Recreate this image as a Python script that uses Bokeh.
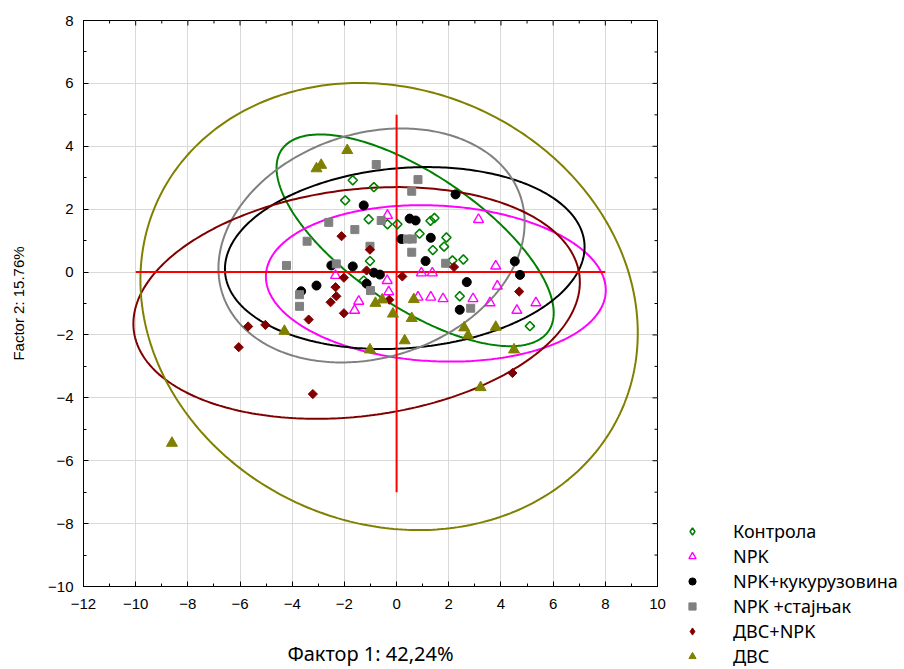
import numpy as np
from bokeh.plotting import figure
from bokeh.layouts import row
from bokeh.models import Legend, LegendItem, SingleIntervalTicker, Range1d
from bokeh.embed import file_html
from bokeh.resources import INLINE

# ---------------- data ----------------
groups = ["Контрола", "NPK", "NPK+кукурузовина", "NPK +стајњак", "ДВС+NPK", "ДВС"]

kontrola_x = [-1.68, -0.87, -1.97, -1.07, -0.35, 0.03, 1.30, 1.45, 0.88, 1.91, 1.82, 1.39, -1.02, -1.26, 2.14, 2.56, 2.42, 5.11]
kontrola_y = [2.92, 2.70, 2.28, 1.68, 1.52, 1.52, 1.63, 1.72, 1.22, 1.10, 0.81, 0.70, 0.35, -0.27, 0.37, 0.40, -0.77, -1.72]

npk_x = [-0.35, 3.14, 3.80, -2.34, -0.36, 0.95, 1.37, 3.86, -0.30, -1.45, -1.61, 0.82, 1.31, 1.78, 2.93, 3.58, 4.61, 5.34]
npk_y = [1.80, 1.67, 0.19, -0.11, -0.27, -0.03, -0.03, -0.45, -0.63, -0.93, -1.22, -0.80, -0.80, -0.85, -0.85, -0.98, -1.22, -0.98]

kuk_x = [-1.26, 0.50, 0.73, 0.19, 1.31, 1.11, -1.68, -0.87, -0.64, 2.26, 4.53, 4.73, 2.69, -2.50, -1.15, 2.42, -3.07, -3.66]
kuk_y = [2.12, 1.70, 1.64, 1.05, 1.09, 0.35, 0.18, -0.02, -0.08, 2.47, 0.34, -0.09, -0.32, 0.21, -0.37, -1.20, -0.43, -0.61]

staj_x = [-0.78, 0.82, 0.58, -0.59, -1.60, 0.42, 0.60, 0.58, -1.02, 1.88, -2.60, -2.31, -1.00, 2.84, -3.43, -4.22, -3.72, -3.72]
staj_y = [3.42, 2.94, 2.57, 1.64, 1.35, 1.05, 1.05, 0.63, 0.82, 0.28, 1.58, 0.26, -0.59, -1.15, 0.98, 0.21, -0.72, -1.09]

dvsnpk_x = [-2.11, -1.02, -1.15, -2.02, -2.34, -2.31, -2.53, -2.02, 0.22, 2.20, 4.70, -0.28, -3.37, -5.03, -5.69, -6.05, -3.21, 4.44]
dvsnpk_y = [1.14, 0.71, 0.05, -0.18, -0.48, -0.77, -0.96, -1.31, -0.14, 0.16, -0.62, -0.88, -1.51, -1.68, -1.73, -2.39, -3.88, -3.21]

dvs_x = [-3.07, -2.89, -1.89, -0.81, -0.55, -0.14, 0.66, 0.58, 0.31, -1.02, 2.59, 2.74, 3.80, 4.50, 3.22, -4.30, -8.61]
dvs_y = [3.29, 3.40, 3.87, -0.99, -0.88, -1.33, -0.87, -1.47, -2.18, -2.47, -1.77, -2.02, -1.75, -2.47, -3.67, -1.88, -5.44]

# red reference cross
hline_x = [-10, 8]
vline_y = [-7, 5]

ellipse_coef = 0.95   # prediction ellipse coefficient

X_MIN, X_MAX = -12, 10
Y_MIN, Y_MAX = -10, 8

# ---------------- styles ----------------
series = [
    (kontrola_x, kontrola_y, dict(marker="square", angle=np.pi / 4, size=6.5, fill_color=None, line_color="#008000", line_width=1.6),
     dict(marker="diamond", fill_color=None, line_color="#008000", line_width=1.6), "#008000"),
    (npk_x, npk_y, dict(marker="triangle", size=10, fill_color=None, line_color="#ff00ff", line_width=1.4),
     dict(marker="triangle", fill_color=None, line_color="#ff00ff", line_width=1.4), "#ff00ff"),
    (kuk_x, kuk_y, dict(marker="circle", size=9, fill_color="black", line_color="black"),
     dict(marker="circle", fill_color="black", line_color="black"), "black"),
    (staj_x, staj_y, dict(marker="square", size=8, fill_color="#808080", line_color="#808080"),
     dict(marker="square", fill_color="#808080", line_color="#808080"), "#808080"),
    (dvsnpk_x, dvsnpk_y, dict(marker="square", angle=np.pi / 4, size=6.5, fill_color="#800000", line_color="#800000"),
     dict(marker="diamond", fill_color="#800000", line_color="#800000"), "#800000"),
    (dvs_x, dvs_y, dict(marker="triangle", size=11, fill_color="#808000", line_color="#808000"),
     dict(marker="triangle", fill_color="#808000", line_color="#808000"), "#808000"),
]

FRAME_W, FRAME_H = 574, 566
p = figure(width=680, height=669, output_backend="svg", toolbar_location=None,
           x_range=Range1d(X_MIN, X_MAX), y_range=Range1d(Y_MIN, Y_MAX),
           min_border_left=83, min_border_right=23, min_border_top=20, min_border_bottom=83,
           background_fill_color="white", border_fill_color="white")
p.outline_line_color = "black"
p.outline_line_width = 1
p.frame_align = False

def style_axis(ax):
    ax.ticker = SingleIntervalTicker(interval=2, num_minor_ticks=2)
    ax.major_tick_in = 5
    ax.major_tick_out = 0
    ax.minor_tick_in = 3
    ax.minor_tick_out = 0
    ax.axis_line_color = "black"
    ax.major_tick_line_color = "black"
    ax.minor_tick_line_color = "black"
    ax.major_label_text_font = "Liberation Sans"
    ax.major_label_text_color = "black"
    ax.major_label_text_font_size = "15px"

for ax in p.xaxis:
    style_axis(ax)
    ax.major_label_standoff = 12
    ax.axis_label = "Фактор 1: 42,24%"
    ax.axis_label_text_font = "Noto Sans"
    ax.axis_label_text_font_size = "20px"
    ax.axis_label_text_font_style = "normal"
    ax.axis_label_text_color = "black"
    ax.axis_label_standoff = 28
for ax in p.yaxis:
    style_axis(ax)
    ax.major_label_standoff = 10
    ax.axis_label = "Factor 2: 15.76%"
    ax.axis_label_text_font = "Liberation Sans"
    ax.axis_label_text_font_size = "15px"
    ax.axis_label_text_font_style = "normal"
    ax.axis_label_text_color = "black"
    ax.axis_label_standoff = 18

p.xgrid.ticker = SingleIntervalTicker(interval=2)
p.ygrid.ticker = SingleIntervalTicker(interval=2)
p.xgrid.grid_line_color = "#d9d9d9"
p.ygrid.grid_line_color = "#d9d9d9"

# mirrored inward ticks on the top and right frame edges
ux = (X_MAX - X_MIN) / FRAME_W   # data units per pixel
uy = (Y_MAX - Y_MIN) / FRAME_H
xt = np.arange(X_MIN + 1, X_MAX, 1)
yt = np.arange(Y_MIN + 1, Y_MAX, 1)
xlen = np.where(xt % 2 == 0, 5, 3) * uy
ylen = np.where(yt % 2 == 0, 5, 3) * ux
p.segment(x0=xt, y0=np.full(len(xt), Y_MAX), x1=xt, y1=Y_MAX - xlen, line_color="black", line_width=1)
p.segment(x0=np.full(len(yt), X_MAX), y0=yt, x1=X_MAX - ylen, y1=yt, line_color="black", line_width=1)

# ---------------- ellipses (normal prediction ellipse, 0.95) ----------------
t = np.linspace(0, 2 * np.pi, 360)
for xs, ys, st, lst, col in series:
    pts = np.vstack([xs, ys])
    n = pts.shape[1]
    m = pts.mean(axis=1)
    cov = np.cov(pts)
    dfd = n - 2
    fq = (dfd / 2.0) * ((1.0 - ellipse_coef) ** (-2.0 / dfd) - 1.0)   # F(2, n-2) quantile
    k = np.sqrt(2.0 * (n - 1) * (n + 1) / (n * (n - 2)) * fq)
    vals, vecs = np.linalg.eigh(cov)
    circ = np.vstack([np.cos(t), np.sin(t)])
    ell = m[:, None] + k * vecs @ (np.sqrt(vals)[:, None] * circ)
    p.line(ell[0], ell[1], line_color=col, line_width=2)

# red cross
p.line(hline_x, [0, 0], line_color="red", line_width=2)
p.line([0, 0], vline_y, line_color="red", line_width=2)

# ---------------- points ----------------
for xs, ys, st, lst, col in series:
    p.scatter(xs, ys, **st)

# ---------------- legend (separate panel to the right) ----------------
# the legend panel's ranges lie far from the data, so its copies of the series stay out of view
lg = figure(width=224, height=669, output_backend="svg", toolbar_location=None,
            x_range=Range1d(100, 101), y_range=Range1d(100, 101),
            x_axis_location=None, y_axis_location=None,
            min_border_left=0, min_border_right=0, min_border_top=0, min_border_bottom=0,
            background_fill_color="white", border_fill_color="white")
lg.outline_line_color = None
lg.xgrid.visible = False
lg.ygrid.visible = False
lg.frame_align = False
leg_renderers = []
for xs, ys, st, lst, col in series:
    leg_renderers.append(lg.scatter(xs, ys, **lst))

legend = Legend(items=[LegendItem(label=g, renderers=[r]) for g, r in zip(groups, leg_renderers)],
                location=(3, 1), orientation="vertical",
                glyph_width=18, glyph_height=24, label_height=24, spacing=1,
                padding=0, margin=0, label_standoff=32,
                label_text_font="Noto Sans", label_text_font_size="18px", label_text_color="black",
                border_line_color=None, background_fill_alpha=0)
lg.add_layout(legend)

layout = row(p, lg)
open("out.html", "w").write(file_html(layout, INLINE))
